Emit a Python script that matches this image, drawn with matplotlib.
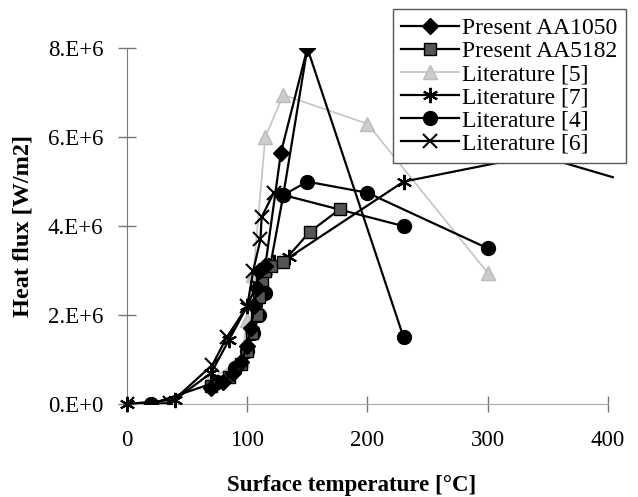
import matplotlib.pyplot as plt
import numpy as np
from matplotlib.ticker import FuncFormatter

plt.rcParams['font.family'] = ['Liberation Serif', 'DejaVu Serif']

# surface temperature (C) and heat flux (W/m2)
aa1050_t = [70, 80, 88, 95, 100, 103, 106, 108, 110, 115, 128, 150]
aa1050_q = [0.35e6, 0.5e6, 0.7e6, 0.95e6, 1.3e6, 1.7e6, 2.2e6, 2.6e6, 3.0e6, 3.1e6, 5.65e6, 8.0e6]

aa5182_t = [70, 85, 95, 100, 104, 108, 110, 112, 115, 120, 130, 152, 177]
aa5182_q = [0.4e6, 0.6e6, 0.9e6, 1.2e6, 1.6e6, 2.0e6, 2.4e6, 2.8e6, 3.0e6, 3.1e6, 3.2e6, 3.87e6, 4.38e6]

lit5_t = [69, 95, 100, 105, 115, 130, 200, 300]
lit5_q = [0.54e6, 1.0e6, 1.9e6, 2.9e6, 6.0e6, 6.95e6, 6.3e6, 2.95e6]

lit7_t = [0, 40, 70, 85, 100, 108, 115, 122, 135, 230, 341, 404]
lit7_q = [0, 0.1e6, 0.7e6, 1.45e6, 2.2e6, 2.7e6, 3.0e6, 3.2e6, 3.3e6, 5.0e6, 5.6e6, 5.1e6]

# literature [4] has several curves
lit4_t = [[20, 75, 90, 100, 105, 110, 115, 130, 150, 200, 300],
          [130, 230],
          [130, 150, 230]]
lit4_q = [[0, 0.5e6, 0.8e6, 1.2e6, 1.6e6, 2.0e6, 2.5e6, 4.7e6, 5.0e6, 4.75e6, 3.5e6],
          [4.7e6, 4.0e6],
          [4.7e6, 8.0e6, 1.5e6]]

lit6_t = [0, 36, 71, 83, 100, 105, 111, 112, 122]
lit6_q = [0, 0.02e6, 0.88e6, 1.5e6, 2.2e6, 3.0e6, 3.7e6, 4.2e6, 4.75e6]

fig = plt.figure(figsize=(6.38, 4.97), dpi=100)
ax = fig.add_axes([0.199, 0.187, 0.754, 0.716])

lw = 1.6
ax.plot(lit5_t, lit5_q, color='#c4c4c4', lw=1.2, marker='^', ms=10,
        mfc='#cccccc', mec='#bbbbbb', label='Literature [5]', zorder=2)
for i, (t, q) in enumerate(zip(lit4_t, lit4_q)):
    ax.plot(t, q, color='black', lw=lw, marker='o', ms=10,
            markevery=[0, 2] if i == 2 else None,
            label='Literature [4]' if i == 0 else None, zorder=3)
ax.plot(lit7_t, lit7_q, color='black', lw=lw, marker=(6, 2, 0), ms=11, mew=1.5,
        markevery=list(range(len(lit7_t) - 1)), clip_on=False,
        label='Literature [7]', zorder=3)
ax.plot(lit6_t, lit6_q, color='black', lw=lw, marker='x', ms=10, mew=1.5,
        label='Literature [6]', zorder=3)
ax.plot(aa5182_t, aa5182_q, color='black', lw=lw, marker='s', ms=9,
        mfc='#555555', mec='black', label='Present AA5182', zorder=4)
ax.plot(aa1050_t, aa1050_q, color='black', lw=lw, marker='D', ms=8,
        label='Present AA1050', zorder=5)

ax.set_xlim(0, 400)
ax.set_ylim(0, 8e6)
ax.set_xticks([0, 100, 200, 300, 400])
ax.set_yticks([0, 2e6, 4e6, 6e6, 8e6])


def sci(v, pos):
    if v == 0:
        return '0.E+0'
    e = int(np.floor(np.log10(v)))
    return '%d.E+%d' % (round(v / 10 ** e), e)


ax.yaxis.set_major_formatter(FuncFormatter(sci))
for s in ['top', 'right']:
    ax.spines[s].set_visible(False)
ax.spines['left'].set_color('#777777')
ax.spines['bottom'].set_color('#aaaaaa')
ax.tick_params(axis='both', direction='inout', width=1,
               labelsize=16.5, color='#777777')
ax.tick_params(axis='x', length=12, pad=13)
ax.tick_params(axis='y', length=13, pad=10.5)

ax.set_xlabel('Surface temperature [\u00b0C]', fontsize=16.5, fontweight='bold')
ax.xaxis.set_label_coords(0.466, -0.2)
ax.set_ylabel('Heat flux [W/m2]', fontsize=17.5, fontweight='bold')
ax.yaxis.set_label_coords(-0.195, 0.5)

handles, labels = ax.get_legend_handles_labels()
order = ['Present AA1050', 'Present AA5182', 'Literature [5]',
         'Literature [7]', 'Literature [4]', 'Literature [6]']
hmap = dict(zip(labels, handles))
leg = ax.legend([hmap[k] for k in order], order, loc='upper right',
                bbox_to_anchor=(626 / 638, 1 - 9 / 497), bbox_transform=fig.transFigure,
                fontsize=17, frameon=True, fancybox=False, framealpha=1,
                edgecolor='#555555', borderpad=0.35, labelspacing=0.07,
                handlelength=2.45, handletextpad=0.15, borderaxespad=0)
leg.get_frame().set_linewidth(1.0)
leg.set_zorder(10)

fig.savefig('out.png', dpi=100)
